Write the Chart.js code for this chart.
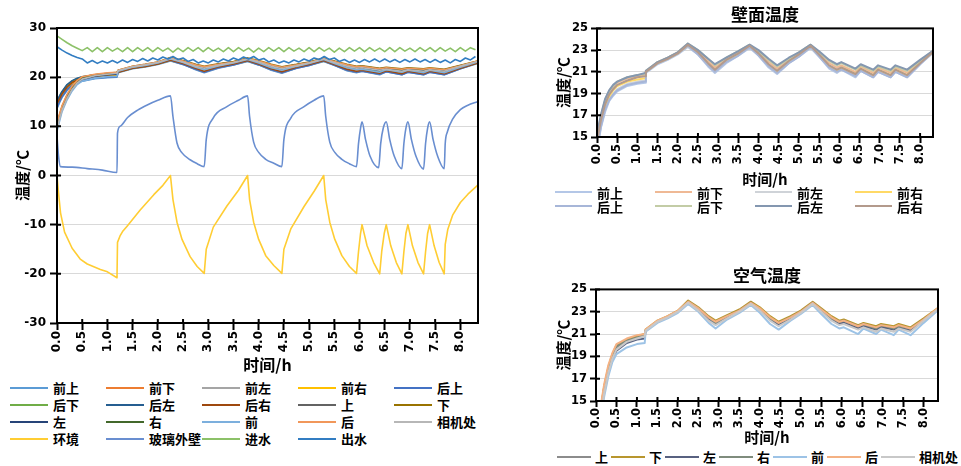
<!DOCTYPE html>
<html>
<head>
<meta charset="utf-8">
<script src="https://cdn.jsdelivr.net/npm/chart.js@4.4.1/dist/chart.umd.min.js"></script>
<style>
  body { margin: 0; background: #fff; width: 961px; height: 466px; position: relative; overflow: hidden; }
  canvas { position: absolute; }
  .legend { position: absolute; font-family: "Noto Sans CJK SC", sans-serif; font-weight: bold; font-size: 13px; color: #000; }
  .legend .item { display: flex; align-items: center; white-space: nowrap; }
  .legend .line { height: 2px; flex: none; }
</style>
</head>
<body>
<canvas id="main" width="490" height="375" style="left:0;top:0"></canvas>
<canvas id="wall" width="411" height="188" style="left:550px;top:0"></canvas>
<canvas id="air" width="411" height="184" style="left:550px;top:262px"></canvas>
<div class="legend" id="mainLegend" style="left:10px;top:379px;display:grid;grid-template-columns:repeat(5,96px);grid-auto-rows:17px"></div>
<div class="legend" id="wallLegend" style="left:555px;top:185px;display:grid;grid-template-columns:repeat(4,100px);grid-auto-rows:14px"></div>
<div class="legend" id="airLegend" style="left:557px;top:448px;display:flex;height:17px"></div>
<script>
// --- DONNÉES ---
// grille de temps commune aux capteurs de paroi et d'air (h)
const T = [0, 0.05, 0.1, 0.2, 0.3, 0.4, 0.5, 0.75, 1.0, 1.19,
           1.21, 1.5, 1.75, 2.0, 2.25, 2.5, 2.75, 2.92, 3.2, 3.5,
           3.78, 4.0, 4.25, 4.46, 4.75, 5.0, 5.29, 5.5, 5.75, 5.94,
           6.05, 6.4, 6.53, 6.84, 6.96, 7.27, 7.39, 7.68, 8.0, 8.34];

// 壁面温度
const wallFrontTop    = [13.6, 14.8, 15.9, 17.3, 18.3, 18.8, 19.2, 19.7, 19.9, 20.0, 20.9, 21.7, 22.1, 22.6, 23.3, 22.6, 21.5, 20.9, 21.8, 22.5, 23.2, 22.5, 21.4, 20.8, 21.8, 22.4, 23.2, 22.4, 21.3, 20.9, 21.2, 20.5, 21.1, 20.5, 21.0, 20.5, 21.0, 20.5, 21.7, 22.8];
const wallFrontBottom = [14.8, 15.8, 16.8, 18.2, 19.1, 19.6, 20.0, 20.4, 20.6, 20.7, 21.0, 21.9, 22.3, 22.8, 23.5, 22.9, 22.0, 21.4, 22.2, 22.8, 23.4, 22.8, 21.9, 21.3, 22.1, 22.7, 23.4, 22.7, 21.8, 21.4, 21.6, 21.0, 21.5, 20.9, 21.4, 20.9, 21.4, 20.9, 21.9, 22.9];
const wallFrontLeft   = [14.0, 15.1, 16.2, 17.6, 18.5, 19.0, 19.4, 19.9, 20.1, 20.2, 21.0, 21.8, 22.2, 22.7, 23.4, 22.7, 21.6, 21.0, 21.9, 22.6, 23.3, 22.6, 21.5, 20.9, 21.9, 22.5, 23.3, 22.5, 21.4, 21.0, 21.3, 20.6, 21.2, 20.6, 21.1, 20.6, 21.1, 20.6, 21.8, 22.9];
const wallFrontRight  = [14.3, 15.4, 16.4, 17.8, 18.7, 19.3, 19.7, 20.1, 20.3, 20.4, 21.0, 21.8, 22.2, 22.7, 23.4, 22.7, 21.7, 21.2, 22.0, 22.6, 23.3, 22.6, 21.6, 21.0, 21.9, 22.5, 23.3, 22.5, 21.5, 21.1, 21.4, 20.8, 21.3, 20.7, 21.2, 20.7, 21.2, 20.7, 21.8, 22.9];
const wallBackTop     = [13.8, 15.0, 16.0, 17.5, 18.4, 18.9, 19.3, 19.8, 20.0, 20.1, 21.0, 21.8, 22.2, 22.7, 23.4, 22.6, 21.6, 21.0, 21.9, 22.5, 23.3, 22.5, 21.5, 20.9, 21.8, 22.4, 23.3, 22.4, 21.4, 21.0, 21.2, 20.6, 21.1, 20.5, 21.0, 20.5, 21.0, 20.5, 21.7, 22.9];
const wallBackBottom  = [15.0, 16.0, 17.0, 18.4, 19.2, 19.7, 20.1, 20.5, 20.7, 20.8, 21.1, 21.9, 22.3, 22.8, 23.6, 23.0, 22.2, 21.6, 22.3, 22.9, 23.5, 22.9, 22.1, 21.5, 22.2, 22.8, 23.5, 22.8, 22.0, 21.6, 21.8, 21.2, 21.6, 21.1, 21.5, 21.1, 21.5, 21.1, 22.0, 23.0];
const wallBackLeft    = [15.2, 16.2, 17.1, 18.5, 19.3, 19.8, 20.1, 20.5, 20.7, 20.9, 21.1, 21.9, 22.3, 22.8, 23.6, 23.0, 22.2, 21.7, 22.3, 22.9, 23.5, 23.0, 22.2, 21.6, 22.3, 22.8, 23.5, 22.9, 22.1, 21.7, 21.9, 21.3, 21.7, 21.2, 21.6, 21.2, 21.6, 21.2, 22.1, 23.0];
const wallBackRight   = [14.6, 15.6, 16.6, 18.0, 18.9, 19.4, 19.8, 20.2, 20.5, 20.6, 21.0, 21.8, 22.2, 22.7, 23.5, 22.8, 21.8, 21.2, 22.1, 22.7, 23.4, 22.7, 21.7, 21.1, 22.0, 22.6, 23.4, 22.6, 21.6, 21.2, 21.4, 20.8, 21.3, 20.7, 21.2, 20.7, 21.2, 20.7, 21.8, 22.9];

// 空气温度
const airTop    = [10.0, 12.0, 13.8, 16.1, 17.8, 19.0, 19.8, 20.4, 20.7, 20.9, 21.3, 22.1, 22.5, 23.0, 23.9, 23.3, 22.4, 22.0, 22.6, 23.1, 23.8, 23.2, 22.4, 21.9, 22.5, 23.0, 23.8, 23.2, 22.4, 22.0, 22.1, 21.6, 21.8, 21.5, 21.7, 21.5, 21.7, 21.4, 22.3, 23.2];
const airBottom = [10.5, 12.3, 14.0, 16.3, 18.0, 19.2, 20.0, 20.5, 20.8, 21.0, 21.4, 22.2, 22.6, 23.1, 24.0, 23.4, 22.6, 22.2, 22.7, 23.2, 23.9, 23.4, 22.6, 22.1, 22.6, 23.1, 23.9, 23.3, 22.6, 22.2, 22.3, 21.8, 22.0, 21.7, 21.9, 21.7, 21.9, 21.6, 22.4, 23.3];
const airLeft   = [9.8, 11.8, 13.6, 15.9, 17.6, 18.8, 19.5, 20.2, 20.5, 20.6, 21.3, 22.1, 22.5, 23.0, 23.8, 23.2, 22.3, 21.9, 22.5, 23.0, 23.8, 23.1, 22.3, 21.8, 22.4, 22.9, 23.8, 23.1, 22.3, 21.9, 22.0, 21.5, 21.7, 21.4, 21.6, 21.4, 21.6, 21.3, 22.2, 23.2];
const airRight  = [10.2, 12.1, 13.9, 16.2, 17.9, 19.1, 19.9, 20.4, 20.7, 20.9, 21.3, 22.1, 22.5, 23.0, 23.9, 23.3, 22.5, 22.0, 22.6, 23.1, 23.8, 23.2, 22.4, 22.0, 22.5, 23.0, 23.8, 23.2, 22.4, 22.1, 22.2, 21.7, 21.9, 21.5, 21.8, 21.5, 21.7, 21.5, 22.3, 23.2];
const airFront  = [9.0, 11.0, 13.0, 15.4, 17.2, 18.5, 19.2, 19.8, 20.1, 20.2, 21.2, 22.0, 22.4, 22.9, 23.7, 23.0, 22.0, 21.5, 22.3, 22.9, 23.6, 22.9, 21.9, 21.4, 22.2, 22.8, 23.6, 22.8, 21.9, 21.5, 21.6, 21.0, 21.5, 21.0, 21.4, 20.9, 21.4, 20.9, 22.0, 23.1];
const airBack   = [10.8, 12.5, 14.2, 16.5, 18.2, 19.3, 20.1, 20.6, 20.9, 21.0, 21.4, 22.2, 22.6, 23.1, 23.9, 23.3, 22.5, 22.1, 22.6, 23.1, 23.8, 23.3, 22.5, 22.0, 22.5, 23.0, 23.8, 23.2, 22.5, 22.1, 22.2, 21.7, 21.9, 21.6, 21.8, 21.6, 21.8, 21.5, 22.3, 23.3];
const airCamera = [9.5, 11.5, 13.3, 15.7, 17.5, 18.8, 19.6, 20.3, 20.6, 20.8, 21.3, 22.1, 22.5, 23.0, 23.8, 23.1, 22.2, 21.8, 22.4, 23.0, 23.7, 23.1, 22.2, 21.7, 22.3, 22.9, 23.7, 23.0, 22.2, 21.8, 21.9, 21.4, 21.6, 21.2, 21.5, 21.2, 21.5, 21.2, 22.2, 23.2];

// 环境
const tAmbient = [0, 0.03, 0.07, 0.15, 0.3, 0.46, 0.6, 0.86, 1.0, 1.19,
                  1.2, 1.25, 1.3, 1.39, 1.65, 1.92, 2.1, 2.25, 2.3, 2.38, 2.48, 2.64, 2.78, 2.92,
                  2.96, 3.1, 3.37, 3.6, 3.78, 3.82, 3.9, 4.0, 4.14, 4.3, 4.46,
                  4.5, 4.64, 4.9, 5.1, 5.29, 5.33, 5.41, 5.51, 5.65, 5.8, 5.94,
                  5.98, 6.02, 6.05, 6.15, 6.28, 6.4, 6.44, 6.49, 6.53, 6.62, 6.73, 6.84,
                  6.88, 6.92, 6.96, 7.05, 7.16, 7.27, 7.31, 7.35, 7.39, 7.48, 7.58, 7.68,
                  7.7, 7.75, 7.85, 8.0, 8.15, 8.34];
const ambient = [0, -3.5, -7.6, -11.5, -14.8, -17, -18, -19.1, -19.6, -20.8,
                 -13.6, -12.3, -11.4, -10.3, -7.0, -3.9, -2.0, 0, -4.9, -9.5, -13, -16.5, -18.5, -19.9,
                 -15, -10.5, -6.2, -3.0, 0, -4.9, -9.5, -13, -16.3, -18.3, -19.9,
                 -15, -10.8, -6.3, -3.2, 0, -4.9, -9.5, -13, -16.3, -18.5, -19.9,
                 -15.5, -11.8, -10, -14.3, -17.7, -20, -15.5, -11.8, -10, -14.3, -17.7, -20,
                 -15.5, -11.8, -10, -14.3, -17.7, -20, -15.5, -11.8, -10, -14.3, -17.7, -20,
                 -14, -11, -8, -5.5, -3.8, -2.0];

// 玻璃外壁
const tGlass = [0, 0.03, 0.07, 0.3, 0.6, 0.9, 1.19,
                1.2, 1.25, 1.4, 1.6, 1.8, 2.0, 2.25, 2.3, 2.38, 2.48, 2.64, 2.78, 2.92,
                2.96, 3.1, 3.37, 3.6, 3.78, 3.82, 3.9, 4.0, 4.14, 4.3, 4.46,
                4.5, 4.64, 4.9, 5.1, 5.29, 5.33, 5.41, 5.51, 5.65, 5.8, 5.94,
                5.98, 6.02, 6.05, 6.12, 6.21, 6.38, 6.42, 6.47, 6.53, 6.6, 6.69, 6.84,
                6.88, 6.92, 6.96, 7.03, 7.12, 7.27, 7.31, 7.35, 7.39, 7.46, 7.55, 7.68,
                7.7, 7.74, 7.85, 8.0, 8.15, 8.34];
const glass = [8.0, 4.0, 1.8, 1.7, 1.4, 1.1, 0.6,
               8.6, 10.0, 11.8, 13.3, 14.4, 15.3, 16.2, 12.0, 6.6, 4.6, 3.2, 2.4, 1.8,
               7.3, 11.7, 14.0, 15.3, 16.2, 12.0, 6.8, 4.7, 3.3, 2.5, 1.8,
               7.3, 11.7, 14.0, 15.3, 16.2, 12.0, 6.8, 4.7, 3.3, 2.4, 1.8,
               6.5, 9.6, 10.9, 7.3, 3.9, 1.6, 6.5, 9.6, 10.9, 7.3, 3.9, 1.4,
               6.5, 9.6, 10.9, 7.3, 3.9, 1.3, 6.5, 9.6, 10.9, 7.3, 3.9, 1.4,
               6.5, 8.8, 11.5, 13.4, 14.3, 15.0];

// 进水 / 出水 (pas de 0.1 h)
const tWater = [0.0, 0.1, 0.2, 0.3, 0.4, 0.5, 0.6, 0.7, 0.8, 0.9,
                1.0, 1.1, 1.2, 1.3, 1.4, 1.5, 1.6, 1.7, 1.8, 1.9,
                2.0, 2.1, 2.2, 2.3, 2.4, 2.5, 2.6, 2.7, 2.8, 2.9,
                3.0, 3.1, 3.2, 3.3, 3.4, 3.5, 3.6, 3.7, 3.8, 3.9,
                4.0, 4.1, 4.2, 4.3, 4.4, 4.5, 4.6, 4.7, 4.8, 4.9,
                5.0, 5.1, 5.2, 5.3, 5.4, 5.5, 5.6, 5.7, 5.8, 5.9,
                6.0, 6.1, 6.2, 6.3, 6.4, 6.5, 6.6, 6.7, 6.8, 6.9,
                7.0, 7.1, 7.2, 7.3, 7.4, 7.5, 7.6, 7.7, 7.8, 7.9,
                8.0, 8.1, 8.2, 8.3];
const inlet = [28.4, 27.7, 27.0, 26.4, 25.9, 25.4, 26.0, 25.2, 26.0, 25.2,
               26.0, 25.3, 25.9, 25.2, 26.0, 25.2, 26.0, 25.3, 26.0, 25.2,
               26.0, 25.3, 25.9, 25.1, 25.9, 25.2, 26.0, 25.3, 26.0, 25.2,
               26.0, 25.3, 25.9, 25.2, 26.0, 25.2, 26.0, 25.3, 25.9, 25.1,
               25.9, 25.2, 26.0, 25.3, 26.0, 25.2, 26.0, 25.3, 25.9, 25.2,
               26.0, 25.2, 26.0, 25.3, 25.9, 25.1, 25.9, 25.2, 26.0, 25.3,
               26.0, 25.2, 26.0, 25.3, 25.9, 25.2, 26.0, 25.2, 26.0, 25.3,
               25.9, 25.2, 26.0, 25.3, 26.0, 25.2, 26.0, 25.3, 25.9, 25.2,
               26.0, 25.3, 26.0, 25.6];
const outlet = [26.2, 25.5, 24.9, 24.4, 24.0, 23.7, 22.9, 23.4, 22.8, 23.3,
                22.9, 23.4, 22.9, 23.5, 23.0, 23.6, 23.2, 23.8, 23.3, 23.9,
                23.5, 24.1, 23.7, 24.2, 23.6, 23.9, 23.2, 23.6, 22.9, 23.3,
                22.9, 23.5, 23.1, 23.7, 23.3, 23.9, 23.5, 24.1, 23.7, 24.2,
                23.5, 23.8, 23.1, 23.5, 22.9, 23.3, 22.9, 23.5, 23.1, 23.7,
                23.3, 23.9, 23.6, 24.2, 23.6, 23.9, 23.2, 23.6, 23.0, 23.5,
                23.0, 23.6, 23.1, 23.7, 23.1, 23.7, 23.1, 23.6, 23.0, 23.6,
                23.1, 23.7, 23.1, 23.6, 23.0, 23.6, 23.0, 23.5, 22.9, 23.6,
                23.2, 23.9, 23.5, 24.2];

const wallLabels = ['前上', '前下', '前左', '前右', '后上', '后下', '后左', '后右'];
const wallSeries = [wallFrontTop, wallFrontBottom, wallFrontLeft, wallFrontRight, wallBackTop, wallBackBottom, wallBackLeft, wallBackRight];
const airLabels = ['上', '下', '左', '右', '前', '后', '相机处'];
const airSeries = [airTop, airBottom, airLeft, airRight, airFront, airBack, airCamera];

// couleurs
const mainColors = ['#5B9BD5', '#ED7D31', '#A5A5A5', '#FFC000', '#4472C4', '#70AD47', '#255E91', '#9E480E',
                    '#636363', '#997300', '#264478', '#43682B', '#7CAFDD', '#F1975A', '#B7B7B7',
                    '#FFCD33', '#698ED0', '#8CC168', '#327DC2'];
const wallColors = ['#b4c7e7', '#efb995', '#cfd3d8', '#ffd966', '#a7b6d8', '#c3cca6', '#8497b0', '#b39a8c'];
const airColors = ['#8c8c8c', '#b8962e', '#586180', '#7f8c7d', '#9dc3e6', '#f4b183', '#c8c8c8'];

const CJK = '"Noto Sans CJK SC", sans-serif';
const NUM = '"DejaVu Sans", sans-serif';

function pts(ts, vs) {
  return ts.map((t, i) => ({ x: t, y: vs[i] }));
}

// cadre noir + graduations qui traversent l'axe
const frame = {
  id: 'frame',
  afterDraw(chart) {
    const { ctx, chartArea: a, scales } = chart;
    ctx.save();
    ctx.strokeStyle = '#000';
    ctx.lineWidth = 2;
    ctx.strokeRect(a.left, a.top, a.right - a.left, a.bottom - a.top);
    ctx.beginPath();
    scales.x.ticks.forEach(t => {
      const px = scales.x.getPixelForValue(t.value);
      ctx.moveTo(px, a.bottom);
      ctx.lineTo(px, a.bottom - 4);
    });
    scales.y.ticks.forEach(t => {
      const py = scales.y.getPixelForValue(t.value);
      ctx.moveTo(a.left, py);
      ctx.lineTo(a.left + 4, py);
    });
    ctx.stroke();
    ctx.restore();
  }
};

function makeChart(id, datasets, o) {
  return new Chart(document.getElementById(id), {
    type: 'line',
    data: { datasets },
    options: {
      responsive: false,
      animation: false,
      layout: { padding: o.padding },
      plugins: {
        legend: { display: false },
        tooltip: { enabled: false },
        title: o.title ? {
          display: true, text: o.title, fullSize: false, color: '#000',
          font: { family: CJK, size: 17, weight: 'bold' },
          padding: { top: o.titleTop, bottom: 4 }
        } : { display: false }
      },
      elements: {
        point: { radius: 0 },
        line: { tension: 0, borderWidth: o.lineWidth, borderJoinStyle: 'round' }
      },
      scales: {
        x: {
          type: 'linear', min: 0, max: o.xMax,
          afterFit: s => { s.height = o.xHeight; },
          border: { display: false },
          grid: { drawOnChartArea: false, tickLength: o.tickLen, tickColor: '#000', tickWidth: 2 },
          ticks: {
            stepSize: 0.5, includeBounds: false, autoSkip: false,
            minRotation: 90, maxRotation: 90, padding: 1, color: '#000',
            font: { family: NUM, size: o.tickSize, weight: 'bold' },
            callback: v => v.toFixed(1)
          },
          title: {
            display: true, text: '时间/h', color: '#000',
            font: { family: CJK, size: o.axisTitleSize, weight: 'bold' },
            padding: { top: o.xTitlePad, bottom: 0 }
          }
        },
        y: {
          min: o.yMin, max: o.yMax,
          afterFit: s => { s.width = o.yWidth; },
          border: { display: false },
          grid: { color: '#d9d9d9', lineWidth: 1, tickLength: o.tickLen, tickColor: '#000', tickWidth: 2 },
          ticks: {
            stepSize: o.yStep, padding: o.yTickPad, color: '#000',
            font: { family: NUM, size: o.tickSize, weight: 'bold' }
          },
          title: {
            display: true, text: '温度/℃', color: '#000',
            font: { family: CJK, size: 15, weight: 'bold' },
            padding: { top: o.yTitlePad, bottom: 0 }
          }
        }
      }
    },
    plugins: [frame]
  });
}

function buildLegend(id, labels, colors, lineW, gap, itemStyle) {
  const box = document.getElementById(id);
  labels.forEach((lab, i) => {
    const item = document.createElement('div');
    item.className = 'item';
    if (itemStyle) item.style.cssText = itemStyle;
    const line = document.createElement('span');
    line.className = 'line';
    line.style.width = lineW + 'px';
    line.style.marginRight = gap + 'px';
    line.style.background = colors[i];
    const txt = document.createElement('span');
    txt.textContent = lab;
    item.appendChild(line);
    item.appendChild(txt);
    box.appendChild(item);
  });
}

// --- GRAPHIQUE PRINCIPAL ---
const mainLabels = wallLabels.concat(airLabels, ['环境', '玻璃外壁', '进水', '出水']);
const mainData = wallSeries.map(s => pts(T, s))
  .concat(airSeries.map(s => pts(T, s)))
  .concat([pts(tAmbient, ambient), pts(tGlass, glass), pts(tWater, inlet), pts(tWater, outlet)]);
// 玻璃外壁 (indice 16) : courbe lissée
const smooth = [16];

makeChart('main', mainData.map((d, i) => ({
  label: mainLabels[i], data: d, borderColor: mainColors[i], order: -i,
  cubicInterpolationMode: smooth.includes(i) ? 'monotone' : 'default',
  tension: smooth.includes(i) ? 0.4 : 0
})), {
  padding: { top: 28, right: 12, left: 0, bottom: 0 },
  xMax: 8.35, yMin: -30, yMax: 30, yStep: 10,
  yWidth: 57, xHeight: 52, tickLen: 7, yTickPad: 4,
  tickSize: 12, axisTitleSize: 16, xTitlePad: 2, yTitlePad: 13, lineWidth: 1.6
});
buildLegend('mainLegend', mainLabels, mainColors, 38, 5);

// --- 壁面温度 ---
makeChart('wall', wallSeries.map((s, i) => ({
  label: wallLabels[i], data: pts(T, s), borderColor: wallColors[i], order: -i
})), {
  title: '壁面温度', titleTop: 4,
  padding: { top: 0, right: 28, left: 0, bottom: 0 },
  xMax: 8.32, yMin: 15, yMax: 25, yStep: 2,
  yWidth: 47, xHeight: 51, tickLen: 6, yTickPad: 3,
  tickSize: 11.5, axisTitleSize: 15, xTitlePad: 3, yTitlePad: 4, lineWidth: 2
});
buildLegend('wallLegend', wallLabels, wallColors, 37, 5);

// --- 空气温度 ---
makeChart('air', airSeries.map((s, i) => ({
  label: airLabels[i], data: pts(T, s), borderColor: airColors[i], order: -i
})), {
  title: '空气温度', titleTop: 3,
  padding: { top: 0, right: 23, left: 0, bottom: 0 },
  xMax: 8.35, yMin: 15, yMax: 25, yStep: 2,
  yWidth: 46, xHeight: 45, tickLen: 6, yTickPad: 3,
  tickSize: 11.5, axisTitleSize: 15, xTitlePad: 0, yTitlePad: 4, lineWidth: 2
});
buildLegend('airLegend', airLabels, airColors, 34, 4, 'margin-right:3px');
</script>
</body>
</html>
